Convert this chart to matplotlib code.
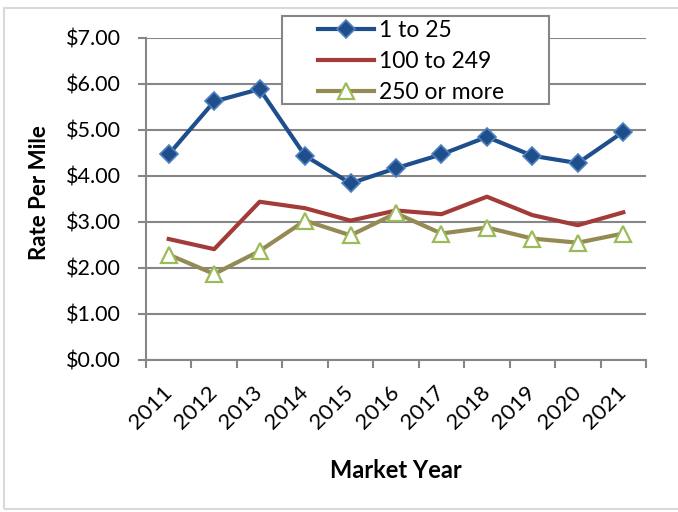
import matplotlib
matplotlib.use("Agg")
import matplotlib.pyplot as plt
from matplotlib.patches import Rectangle
from matplotlib.ticker import FuncFormatter

years = ["2011", "2012", "2013", "2014", "2015", "2016", "2017", "2018", "2019", "2020", "2021"]
s_1_25 = [4.47, 5.62, 5.89, 4.44, 3.84, 4.17, 4.47, 4.85, 4.44, 4.28, 4.96]
s_100_249 = [2.63, 2.41, 3.44, 3.30, 3.03, 3.25, 3.17, 3.55, 3.15, 2.93, 3.21]
s_250_more = [2.29, 1.87, 2.37, 3.03, 2.71, 3.19, 2.75, 2.88, 2.64, 2.55, 2.75]
series_names = ["1 to 25", "100 to 249", "250 or more"]

plt.rcParams['font.family'] = ['Lato', 'DejaVu Sans']

fig = plt.figure(figsize=(6.78, 5.12), dpi=100)
fig.patches.append(Rectangle((4/678, 1-509/512), 1.0, (509-8)/512, transform=fig.transFigure,
                             fill=False, edgecolor='#d9d9d9', linewidth=1.5))
ax = fig.add_axes([146/678, 1-360/512, 500/678, 322/512])

x = list(range(len(years)))
ax.plot(x, s_1_25, color='#1F4E8C', lw=3.0, marker='D', ms=9, mfc='#1F4E8C',
        mec='#4F81BD', mew=1.2, label=series_names[0], zorder=4)
ax.plot(x, s_100_249, color='#A33B39', lw=3.0, label=series_names[1], zorder=3)
ax.plot(x, s_250_more, color='#948A54', lw=3.0, marker='^', ms=11, mfc='white',
        mec='#9BBB59', mew=1.6, label=series_names[2], zorder=3)

ax.set_xlim(-0.5, len(years) - 0.5)
ax.set_ylim(0, 7)
ax.set_yticks([0, 1, 2, 3, 4, 5, 6, 7])
ax.yaxis.set_major_formatter(FuncFormatter(lambda v, p: f"${v:.2f}"))
ax.set_xticks([i - 0.5 for i in range(len(years) + 1)])
ax.set_xticklabels([])
ax.set_xticks(x, minor=True)
ax.set_xticklabels(years, minor=True, rotation=45, ha='right', va='center',
                   rotation_mode='anchor', fontsize=16)
ax.tick_params(axis='x', which='minor', length=0, pad=21)
ax.tick_params(axis='x', which='major', length=6, width=1.5, color='#868686', direction='out')
ax.tick_params(axis='y', length=6, width=1.5, color='#868686', labelsize=15.5, pad=12)

ax.grid(axis='y', color='#868686', lw=1.5)
ax.set_axisbelow(True)
for s in ['top', 'right']:
    ax.spines[s].set_visible(False)
for s in ['left', 'bottom']:
    ax.spines[s].set_color('#868686')
    ax.spines[s].set_linewidth(1.5)

ax.set_ylabel("Rate Per Mile", fontsize=16, fontweight='bold', va='center')
ax.yaxis.set_label_coords((40-146)/500, (360-193)/322)
ax.set_xlabel("Market Year", fontsize=17, fontweight='bold', va='center')
ax.xaxis.set_label_coords(0.5, (360-471)/322)

# legend frame
ax.add_patch(Rectangle(((282-146)/500, (360-104)/322), 267/500, 88/322, transform=ax.transAxes,
                       facecolor='white', edgecolor='#868686', lw=1.5, clip_on=False, zorder=5))
leg = ax.legend(loc='center left', bbox_to_anchor=((318-146)/500, (360-61.5)/322), fontsize=16.5,
                frameon=False, handlelength=2.45, borderpad=0, labelspacing=0.42,
                handletextpad=0.2, borderaxespad=0)
leg.set_zorder(6)

fig.savefig("out.png", dpi=100)
